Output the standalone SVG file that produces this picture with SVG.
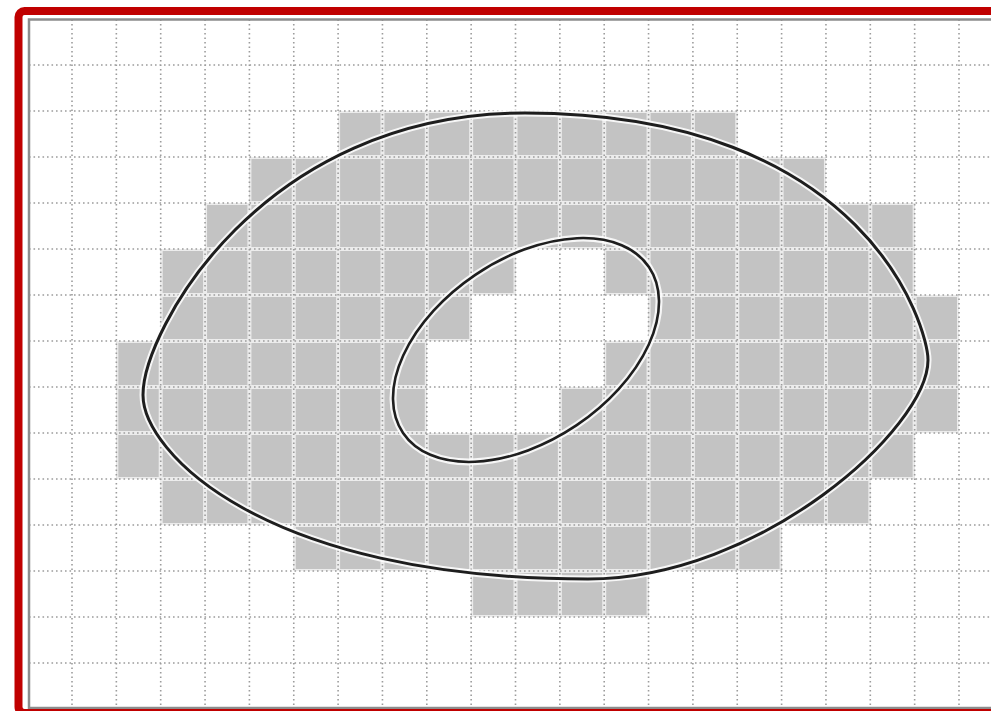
<svg xmlns="http://www.w3.org/2000/svg" xmlns:xlink="http://www.w3.org/1999/xlink" width="991" height="711" viewBox="0 0 991 711">
  <style>
    .cells { fill: #c3c3c3; }
    .band { fill: none; stroke: #ececec; stroke-width: 4; }
    .dots { fill: none; stroke: #9c9c9c; stroke-width: 1.6; stroke-dasharray: 1.6 2.9; }
    .halo { fill: none; stroke: #ffffff; stroke-width: 7; stroke-opacity: 0.85; }
    .curve { fill: none; stroke: #1e1e1e; }
  </style>
  <defs>
    <path id="grayRegion" d="M338.1 111H737.25V157H338.1Z M249.4 157H825.95V203H249.4Z M205.05 203H914.65V249H205.05Z M160.7 249H515.5V295H160.7Z M604.2 249H914.65V295H604.2Z M160.7 295H471.15V341H160.7Z M648.55 295H959V341H648.55Z M116.35 341H426.8V387H116.35Z M604.2 341H959V387H604.2Z M116.35 387H426.8V433H116.35Z M559.85 387H959V433H559.85Z M116.35 433H914.65V479H116.35Z M160.7 479H870.3V525H160.7Z M293.75 525H781.6V571H293.75Z M471.15 571H648.55V617H471.15Z"/>
    <path id="gridLines" d="M72 19.5V708 M116.35 19.5V708 M160.7 19.5V708 M205.05 19.5V708 M249.4 19.5V708 M293.75 19.5V708 M338.1 19.5V708 M382.45 19.5V708 M426.8 19.5V708 M471.15 19.5V708 M515.5 19.5V708 M559.85 19.5V708 M604.2 19.5V708 M648.55 19.5V708 M692.9 19.5V708 M737.25 19.5V708 M781.6 19.5V708 M825.95 19.5V708 M870.3 19.5V708 M914.65 19.5V708 M959 19.5V708 M29 65H991 M29 111H991 M29 157H991 M29 203H991 M29 249H991 M29 295H991 M29 341H991 M29 387H991 M29 433H991 M29 479H991 M29 525H991 M29 571H991 M29 617H991 M29 663H991"/>
    <path id="outerPath" d="M525 113 C868 113 928 329 928 360 C928 428 761 579 588 579 C261.3 579 143 451 143 395 C143 331 261 113 525 113 Z"/>
    <clipPath id="grayClip">
      <use xlink:href="#grayRegion" href="#grayRegion"/>
    </clipPath>
  </defs>

  <rect x="0" y="0" width="991" height="711" fill="#ffffff"/>

  <g id="cells">
    <use class="cells" xlink:href="#grayRegion" href="#grayRegion"/>
  </g>

  <g id="grid">
    <g clip-path="url(#grayClip)">
      <use class="band" xlink:href="#gridLines" href="#gridLines"/>
    </g>
    <use class="dots" xlink:href="#gridLines" href="#gridLines"/>
  </g>

  <g id="frame">
    <rect x="29" y="19.5" width="980" height="688.5" fill="none" stroke="#8c8c8c" stroke-width="2.5"/>
    <rect x="18.5" y="11" width="1000" height="702" rx="6" ry="6" fill="none" stroke="#c00000" stroke-width="8"/>
  </g>

  <g id="outer-curve">
    <use class="halo" xlink:href="#outerPath" href="#outerPath"/>
    <use class="curve" stroke-width="3" xlink:href="#outerPath" href="#outerPath"/>
  </g>

  <g id="inner-ellipse" transform="translate(526 350) rotate(-34)">
    <ellipse class="halo" cx="0" cy="0" rx="148.3" ry="90.7"/>
    <ellipse class="curve" stroke-width="2.6" cx="0" cy="0" rx="148.3" ry="90.7"/>
  </g>
</svg>
